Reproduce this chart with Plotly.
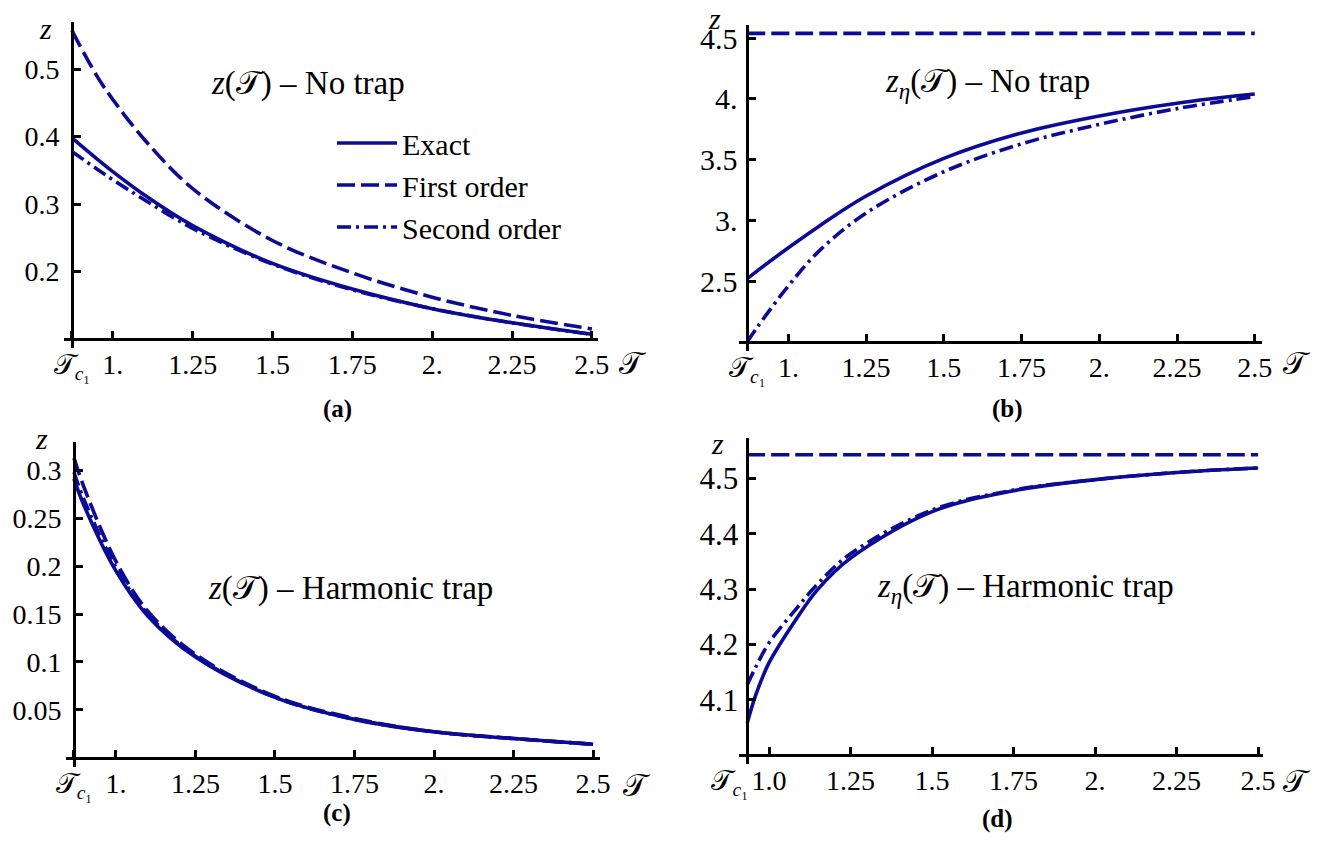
import plotly.graph_objects as go

# ---------------- data ----------------
# (a) z(T) - no trap
tc1_a = 0.872
xa = [0.872, 0.95, 1.0, 1.1, 1.25, 1.5, 1.75, 2.0, 2.25, 2.5]
a_exact = [0.398, 0.367, 0.348, 0.313, 0.268, 0.212, 0.174, 0.145, 0.124, 0.107]
a_first = [0.557, 0.490, 0.455, 0.395, 0.323, 0.246, 0.198, 0.162, 0.135, 0.115]
a_second = [0.378, 0.352, 0.336, 0.306, 0.264, 0.211, 0.173, 0.145, 0.124, 0.107]

# (b) z_eta(T) - no trap
tc1_b = 0.868
xb = [0.868, 0.9, 1.0, 1.1, 1.25, 1.5, 1.75, 2.0, 2.25, 2.5]
b_exact = [2.52, 2.584, 2.774, 2.954, 3.20, 3.51, 3.72, 3.86, 3.965, 4.04]
b_first = [4.54, 4.54, 4.54, 4.54, 4.54, 4.54, 4.54, 4.54, 4.54, 4.54]
b_second = [2.00, 2.12, 2.46, 2.75, 3.06, 3.40, 3.63, 3.79, 3.92, 4.02]

# (c) z(T) - harmonic trap
tc1_c = 0.868
xc = [0.868, 0.9, 1.0, 1.1, 1.25, 1.5, 1.75, 2.0, 2.25, 2.5]
c_exact = [0.291, 0.263, 0.195, 0.148, 0.105, 0.063, 0.040, 0.027, 0.020, 0.014]
c_first = [0.313, 0.282, 0.205, 0.153, 0.108, 0.064, 0.041, 0.027, 0.020, 0.014]
c_second = [0.298, 0.269, 0.199, 0.150, 0.106, 0.063, 0.040, 0.027, 0.020, 0.014]

# (d) z_eta(T) - harmonic trap
tc1_d = 0.933
xd = [0.933, 0.96, 1.0, 1.08, 1.15, 1.25, 1.5, 1.75, 2.0, 2.25, 2.5]
d_exact = [4.058, 4.110, 4.167, 4.243, 4.300, 4.356, 4.440, 4.478, 4.498, 4.511, 4.519]
d_first = [4.543] * 11
d_second = [4.127, 4.160, 4.203, 4.262, 4.310, 4.364, 4.443, 4.479, 4.498, 4.511, 4.519]

series_names = ["Exact", "First order", "Second order"]

x_tickvals_common = [1.0, 1.25, 1.5, 1.75, 2.0, 2.25, 2.5]
x_ticktext_abc = ["1.", "1.25", "1.5", "1.75", "2.", "2.25", "2.5"]
x_ticktext_d = ["1.0", "1.25", "1.5", "1.75", "2.", "2.25", "2.5"]

ya_ticks = [0.2, 0.3, 0.4, 0.5]
ya_text = ["0.2", "0.3", "0.4", "0.5"]
yb_ticks = [2.5, 3.0, 3.5, 4.0, 4.5]
yb_text = ["2.5", "3.", "3.5", "4.", "4.5"]
yc_ticks = [0.05, 0.1, 0.15, 0.2, 0.25, 0.3]
yc_text = ["0.05", "0.1", "0.15", "0.2", "0.25", "0.3"]
yd_ticks = [4.1, 4.2, 4.3, 4.4, 4.5]
yd_text = ["4.1", "4.2", "4.3", "4.4", "4.5"]

titles = ["<i>z</i>(𝒯) – No trap", "<i>z</i><sub><i>η</i></sub>(𝒯) – No trap",
          "<i>z</i>(𝒯) – Harmonic trap", "<i>z</i><sub><i>η</i></sub>(𝒯) – Harmonic trap"]
panel_labels = ["(a)", "(b)", "(c)", "(d)"]

# ---------------- style ----------------
W, H = 1332, 841
COL = "#0B0B96"
FONT = "Liberation Serif"
FS = 28
LW = 3.6
dashes = ["solid", "18px,6px", "14px,5px,3px,5px"]

TC = "𝒯<sub><i>c</i>₁</sub>"
NB = "\u00a0"

panels = [
    dict(x=xa, ys=[a_exact, a_first, a_second], tc1=tc1_a, ymin=0.1,
         xr=[0.847, 2.519], yr=[0.0867, 0.5697], dx=[0.0480, 0.4489], dy=[0.5862, 0.9738],
         yt=ya_ticks, ytt=ya_text, xtt=x_ticktext_abc, tclab=TC, yfs=28, ystand=6),
    dict(x=xb, ys=[b_exact, b_first, b_second], tc1=tc1_b, ymin=2.0,
         xr=[0.842, 2.523], yr=[1.926, 4.609], dx=[0.5550, 0.9474], dy=[0.5830, 0.9703],
         yt=yb_ticks, ytt=yb_text, xtt=x_ticktext_abc, tclab=TC, yfs=30, ystand=3),
    dict(x=xc, ys=[c_exact, c_first, c_second], tc1=tc1_c, ymin=0.0,
         xr=[0.843, 2.522], yr=[-0.0094, 0.3299], dx=[0.04955, 0.4505], dy=[0.08835, 0.4748],
         yt=yc_ticks, ytt=yc_text, xtt=x_ticktext_abc, tclab=TC, yfs=28, ystand=6),
    dict(x=xd, ys=[d_exact, d_first, d_second], tc1=tc1_d, ymin=4.0,
         xr=[0.9085, 2.515], yr=[3.9837, 4.5727], dx=[0.5550, 0.9482], dy=[0.09156, 0.4788],
         yt=yd_ticks, ytt=yd_text, xtt=x_ticktext_d, tclab=TC + NB * 5, yfs=31, ystand=2),
]

fig = go.Figure()
layout = dict(width=W, height=H, margin=dict(l=0, r=0, t=0, b=0, pad=0, autoexpand=False),
              autosize=False,
              paper_bgcolor="white", plot_bgcolor="white",
              font=dict(family=FONT, size=FS, color="black"),
              showlegend=True)
annotations = []

for i, p in enumerate(panels):
    k = "" if i == 0 else str(i + 1)
    xref, yref = "x" + k, "y" + k
    for j in range(3):
        fig.add_trace(go.Scatter(
            x=p["x"], y=p["ys"][j], mode="lines", name=series_names[j],
            xaxis=xref, yaxis=yref, showlegend=(i == 0),
            line=dict(color=COL, width=LW, dash=dashes[j], shape="spline", smoothing=1.0),
            hoverinfo="skip"))
    fx = (p["tc1"] - p["xr"][0]) / (p["xr"][1] - p["xr"][0])
    fy = (p["ymin"] - p["yr"][0]) / (p["yr"][1] - p["yr"][0])
    xpos = p["dx"][0] + fx * (p["dx"][1] - p["dx"][0])
    ypos = p["dy"][0] + fy * (p["dy"][1] - p["dy"][0])
    common = dict(showline=True, linecolor="black", linewidth=2.6, ticks="inside",
                  ticklen=7, tickwidth=2.6, tickcolor="black", showgrid=False,
                  zeroline=False, anchor="free", fixedrange=True, automargin=False,
                  tickangle=0)
    layout["xaxis" + k] = dict(common, domain=p["dx"], range=p["xr"], position=ypos,
                               tickvals=[p["tc1"]] + x_tickvals_common,
                               ticktext=[p["tclab"]] + p["xtt"], ticklabelstandoff=0,
                               tickfont=dict(family=FONT, size=FS, color="black"))
    layout["yaxis" + k] = dict(common, domain=p["dy"], range=p["yr"], position=xpos,
                               tickvals=p["yt"], ticktext=p["ytt"], ticklabelstandoff=p["ystand"],
                               tickfont=dict(family=FONT, size=p["yfs"], color="black"))
    tx = [308, 987, 351, 1025][i]
    ty = [84, 83, 588, 588][i]
    annotations.append(dict(text=titles[i], x=tx / W, y=1 - ty / H, xref="paper", yref="paper",
                            showarrow=False, xanchor="center", yanchor="middle",
                            font=dict(family=FONT, size=33, color="black")))
    # axis name "z" at the top of each vertical axis
    zx = [45, 714, 42, 717][i]
    zy = [28, 0, 438, 443][i]
    zanchor = ["middle", "top", "middle", "middle"][i]
    annotations.append(dict(text="<i>z</i>", x=zx / W, y=1 - zy / H, xref="paper", yref="paper",
                            showarrow=False, xanchor="center", yanchor=zanchor,
                            font=dict(family=FONT, size=30, color="black")))
    Tx = [633, 1297, 637, 1297][i]
    Ty = [363, 363, 785, 781][i]
    annotations.append(dict(text="𝒯", x=Tx / W, y=1 - Ty / H, xref="paper", yref="paper",
                            showarrow=False, xanchor="center", yanchor="middle",
                            font=dict(family=FONT, size=31, color="black")))
    lx = [337, 1007, 337, 997][i]
    ly = [409, 409, 813, 819][i]
    annotations.append(dict(text="<b>" + panel_labels[i] + "</b>", x=lx / W, y=1 - ly / H,
                            xref="paper", yref="paper", showarrow=False,
                            xanchor="center", yanchor="middle",
                            font=dict(family=FONT, size=25, color="black")))

layout["annotations"] = annotations
layout["legend"] = dict(x=332 / W, y=1 - 117 / H, xanchor="left", yanchor="top",
                        bgcolor="rgba(0,0,0,0)", font=dict(family=FONT, size=30, color="black"),
                        itemwidth=60, tracegroupgap=0)
fig.update_layout(**layout)
fig.write_html("out.html")
